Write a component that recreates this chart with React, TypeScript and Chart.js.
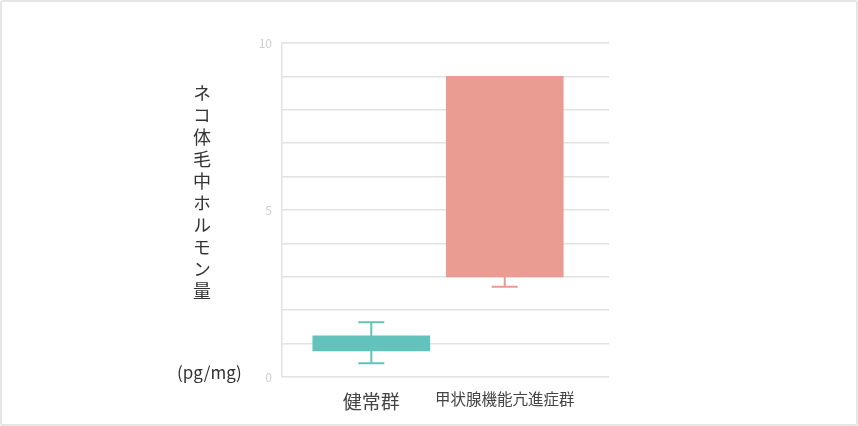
import { useEffect, useRef } from 'react'
import { Chart, registerables } from 'chart.js'

Chart.register(...registerables)

const categories = ['健常群', '甲状腺機能亢進症群']
const positions = [1, 2]
const boxLow = [0.78, 3.0]
const boxHigh = [1.23, 9.0]
const errLow: (number | null)[] = [0.41, 2.7]
const errHigh: (number | null)[] = [1.64, null]
const colors = ['#63c3bc', '#ea9c93']
const yTickLabels = [0, 5, 10]

const FONT = '"Noto Sans CJK JP", "Noto Sans", sans-serif'

const errorBars = {
  id: 'errorBars',
  afterDatasetsDraw(chart: any) {
    const { ctx, scales } = chart
    const x = scales.x
    const y = scales.y
    ctx.save()
    ctx.lineWidth = 2
    positions.forEach((p, i) => {
      const px = x.getPixelForValue(p)
      ctx.strokeStyle = colors[i]
      const whisker = (from: number, to: number) => {
        const y0 = y.getPixelForValue(from)
        const y1 = y.getPixelForValue(to)
        ctx.beginPath()
        ctx.moveTo(px, y0)
        ctx.lineTo(px, y1)
        ctx.moveTo(px - 13, y1)
        ctx.lineTo(px + 13, y1)
        ctx.stroke()
      }
      if (errHigh[i] != null) whisker(boxHigh[i], errHigh[i] as number)
      if (errLow[i] != null) whisker(boxLow[i], errLow[i] as number)
    })
    ctx.restore()
  }
}

export default function App() {
  const ref = useRef<HTMLCanvasElement>(null)
  useEffect(() => {
    document.body.style.margin = '0'
    if (!ref.current) return
    const chart = new Chart(ref.current, {
      type: 'bar',
      data: {
        datasets: [{
          data: positions.map((p, i) => ({ x: p, y: [boxLow[i], boxHigh[i]] })) as any,
          backgroundColor: colors,
          borderWidth: 0,
          barThickness: 117
        }]
      },
      options: {
        responsive: false,
        animation: false,
        devicePixelRatio: 1,
        layout: { padding: { left: 242, right: 249, top: 43, bottom: 9 } },
        plugins: { legend: { display: false }, tooltip: { enabled: false } },
        scales: {
          x: {
            type: 'linear',
            offset: false,
            min: 0.331,
            max: 2.781,
            afterBuildTicks: (s: any) => { s.ticks = positions.map(v => ({ value: v })) },
            afterFit: (s: any) => { s.height = 40 },
            ticks: {
              autoSkip: false,
              maxRotation: 0,
              padding: 5,
              color: '#444',
              font: (c: any) => ({ size: c.index === 0 ? 19 : 15.5, family: FONT }),
              callback: (v: any) => categories[positions.indexOf(Number(v))]
            },
            grid: { display: false, offset: false },
            border: { display: false }
          },
          y: {
            min: 0,
            max: 10,
            afterFit: (s: any) => { s.width = 40 },
            ticks: {
              stepSize: 1,
              autoSkip: false,
              padding: 10,
              color: '#cfcfcf',
              font: { size: 12, family: FONT },
              callback: (v: any) => (yTickLabels.includes(Number(v)) ? String(v) : '')
            },
            grid: { color: '#e2e2e2', lineWidth: 1.5, drawTicks: false },
            border: { display: true, color: '#e2e2e2', width: 1.5 }
          }
        }
      },
      plugins: [errorBars]
    })
    return () => chart.destroy()
  }, [])
  return (
    <div style={{ position: 'absolute', left: 0, top: 0, width: 858, height: 426, background: '#fff' }}>
      <canvas ref={ref} width={858} height={426} style={{ position: 'absolute', left: 0, top: 0 }} />
      <div style={{ position: 'absolute', left: 0, top: 0, width: 858, height: 426, boxSizing: 'border-box', border: '2px solid #e6e6e6', borderRadius: 3, pointerEvents: 'none' }} />
      <div style={{ position: 'absolute', left: 192, top: 84, writingMode: 'vertical-rl', fontFamily: FONT, fontSize: 18, letterSpacing: 4, lineHeight: '20px', color: '#333' }}>
        ネコ体毛中ホルモン量
      </div>
      <div style={{ position: 'absolute', left: 177, top: 360, fontFamily: FONT, fontSize: 17, lineHeight: '24px', color: '#333' }}>
        (pg/mg)
      </div>
    </div>
  )
}
